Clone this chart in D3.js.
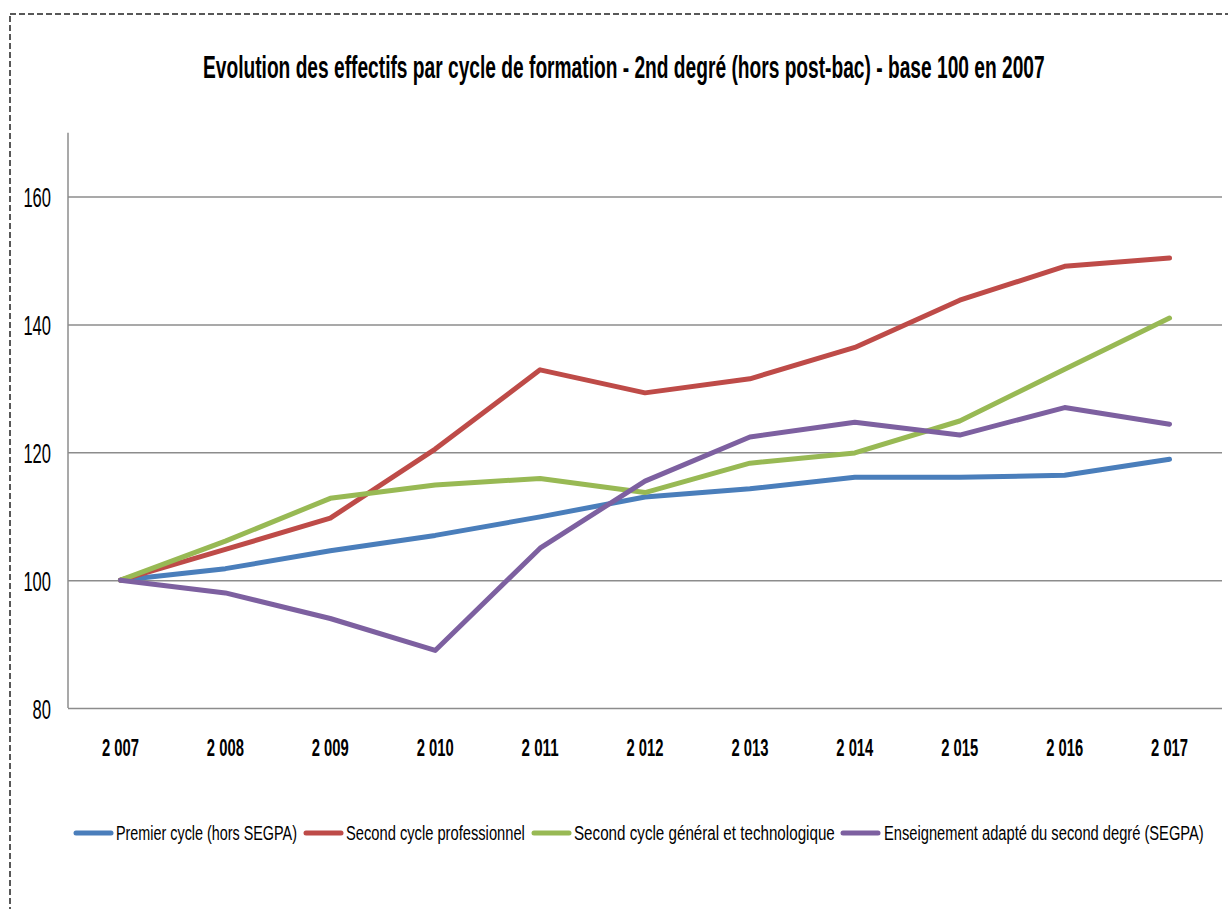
<!DOCTYPE html>
<html>
<head>
<meta charset="utf-8">
<script src="https://cdn.jsdelivr.net/npm/d3@7"></script>
<style>
  html, body { margin: 0; padding: 0; background: #fff; }
  svg { display: block; }
  text { font-family: "Liberation Sans", Arial, sans-serif; fill: #000; }
</style>
</head>
<body>
<div id="chart"></div>
<script>
// ---- Data ----
const years = ["2 007", "2 008", "2 009", "2 010", "2 011", "2 012", "2 013", "2 014", "2 015", "2 016", "2 017"];
const premierCycle = [100, 101.8, 104.6, 107.0, 109.9, 113.0, 114.3, 116.1, 116.1, 116.4, 118.9];
const secondPro = [100, 104.8, 109.7, 120.5, 132.9, 129.3, 131.5, 136.4, 143.8, 149.1, 150.4];
const secondGT = [100, 106.1, 112.8, 114.9, 115.9, 113.7, 118.3, 119.9, 124.9, 133.0, 141.0];
const segpa = [100, 98.0, 94.0, 89.0, 105.0, 115.5, 122.4, 124.7, 122.7, 127.0, 124.4];
const seriesNames = ["Premier cycle (hors SEGPA)", "Second cycle professionnel", "Second cycle général et technologique", "Enseignement adapté du second degré (SEGPA)"];
const seriesColors = ["#4A7EBB", "#BE4B48", "#98B954", "#7D60A0"];
const yTicks = [80, 100, 120, 140, 160];
const title = "Evolution des effectifs par cycle de formation - 2nd degré (hors post-bac) - base 100 en 2007";

const series = [premierCycle, secondPro, secondGT, segpa].map((vals, i) => ({
  name: seriesNames[i], color: seriesColors[i],
  points: years.map((y, j) => ({ year: y, value: vals[j] }))
}));

// ---- Layout ----
const W = 1228, H = 909;
const plot = { left: 68, right: 1222, top: 132.7, bottom: 708 };

const svg = d3.select("#chart").append("svg").attr("width", W).attr("height", H);

// horizontally condense a text node to a target width (Calibri-like narrow look)
function fit(node, tx, ty, width) {
  const t = d3.select(node).attr("x", 0).attr("y", 0).attr("dy", null);
  const natural = node.getComputedTextLength();
  const s = width / natural;
  t.attr("transform", `translate(${tx},${ty}) scale(${s},1)`);
}

// dashed outer border (only top & left visible)
svg.append("rect")
  .attr("x", 10).attr("y", 14).attr("width", 1260).attr("height", 940)
  .attr("fill", "none").attr("stroke", "#222").attr("stroke-width", 1.5)
  .attr("stroke-dasharray", "6,3");

const x = d3.scaleBand().domain(years).range([plot.left, plot.right]);
const y = d3.scaleLinear().domain([80, 170]).range([plot.bottom, plot.top]);

// title
const titleNode = svg.append("text")
  .attr("font-size", 31).attr("font-weight", "bold")
  .text(title).node();
fit(titleNode, 203, 78, 842);

// gridlines
const yAxis = d3.axisLeft(y).tickValues(yTicks).tickSize(-(plot.right - plot.left)).tickFormat(d3.format("d")).tickPadding(17);
const gy = svg.append("g").attr("transform", `translate(${plot.left},0)`).call(yAxis);
gy.select(".domain").remove();
gy.selectAll(".tick line").attr("stroke", "#8c8c8c").attr("stroke-width", 1.5);
gy.selectAll(".tick text")
  .attr("font-size", 28).attr("fill", "#000")
  .attr("font-family", "'Liberation Sans', Arial, sans-serif")
  .attr("text-anchor", "end")
  .each(function (d) { fit(this, -17, 10, String(d).length * 9.2); });

// vertical axis line
svg.append("line")
  .attr("x1", plot.left).attr("x2", plot.left)
  .attr("y1", plot.top).attr("y2", plot.bottom)
  .attr("stroke", "#8c8c8c").attr("stroke-width", 1.5);

// x axis labels
const xAxis = d3.axisBottom(x).tickSize(0).tickPadding(0);
const gx = svg.append("g").attr("transform", `translate(0,${plot.bottom})`).call(xAxis);
gx.select(".domain").remove();
gx.selectAll(".tick text")
  .attr("font-size", 23).attr("font-weight", "bold").attr("fill", "#000")
  .attr("font-family", "'Liberation Sans', Arial, sans-serif")
  .attr("text-anchor", "middle")
  .each(function () { fit(this, 0, 48, 37); });

// lines
const line = d3.line()
  .x(d => x(d.year) + x.bandwidth() / 2)
  .y(d => y(d.value));

svg.append("g").selectAll("path")
  .data(series)
  .join("path")
  .attr("d", d => line(d.points))
  .attr("fill", "none")
  .attr("stroke", d => d.color)
  .attr("stroke-width", 5)
  .attr("stroke-linejoin", "round")
  .attr("stroke-linecap", "round");

// legend
const legendItems = [
  { lx: 76, tx: 116, tw: 181 },
  { lx: 306, tx: 346, tw: 179 },
  { lx: 534, tx: 574, tw: 261 },
  { lx: 843, tx: 884, tw: 320 }
];
const lg = svg.append("g");
series.forEach((s, i) => {
  const it = legendItems[i];
  lg.append("line")
    .attr("x1", it.lx).attr("x2", it.lx + 35)
    .attr("y1", 833).attr("y2", 833)
    .attr("stroke", s.color).attr("stroke-width", 5)
    .attr("stroke-linecap", "round");
  const tn = lg.append("text")
    .attr("font-size", 21)
    .text(s.name).node();
  fit(tn, it.tx, 840, it.tw);
});
</script>
</body>
</html>
